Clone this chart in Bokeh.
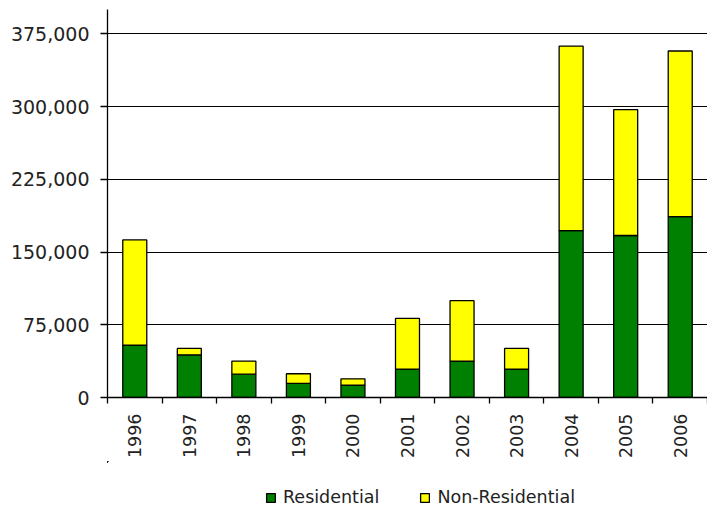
import math
from bokeh.plotting import figure
from bokeh.layouts import column
from bokeh.models import (ColumnDataSource, FixedTicker, Range1d, Legend, LegendItem,
                          NumeralTickFormatter)
from bokeh.embed import file_html
from bokeh.resources import INLINE

# Building permit values by year
years = ["1996", "1997", "1998", "1999", "2000", "2001", "2002", "2003", "2004", "2005", "2006"]
residential = [54000, 44000, 24000, 14500, 12800, 29300, 37600, 29300, 172000, 167000, 186500]
non_residential = [108500, 6600, 13600, 10000, 6500, 52200, 62200, 21300, 190300, 129700, 170700]
y_ticks = [0, 75000, 150000, 225000, 300000, 375000]

FONT = "DejaVu Sans"
GREEN = "#008000"
YELLOW = "#FFFF00"
TEXT = "#222222"

xs = [i + 0.5 for i in range(len(years))]
tot_top = [r + n for r, n in zip(residential, non_residential)]

src = ColumnDataSource(dict(x=xs, res_top=residential, tot=tot_top,
                            zero=[0] * len(years)))

p = figure(frame_width=600, frame_height=388, output_backend="svg", toolbar_location=None,
           x_range=Range1d(0, len(years)), y_range=Range1d(0, 400000),
           min_border_left=107, min_border_right=0, min_border_top=9,
           min_border_bottom=0)
p.outline_line_color = None
p.background_fill_color = "white"
p.border_fill_color = "white"

bw = 0.44
p.vbar(x="x", bottom="zero", top="res_top", width=bw, source=src,
       fill_color=GREEN, line_color="black", line_width=1.3)
p.vbar(x="x", bottom="res_top", top="tot", width=bw, source=src,
       fill_color=YELLOW, line_color="black", line_width=1.3)

# y axis
p.yaxis.ticker = FixedTicker(ticks=y_ticks)
p.yaxis.formatter = NumeralTickFormatter(format="0,0")
p.yaxis.major_tick_out = 7
p.yaxis.major_tick_in = 0
p.yaxis.minor_tick_out = 0
p.yaxis.minor_tick_in = 0
p.yaxis.axis_line_color = "black"
p.yaxis.axis_line_width = 1.3
p.yaxis.major_tick_line_width = 1.3
p.yaxis.major_label_standoff = 11
p.yaxis.major_label_text_font = FONT
p.yaxis.major_label_text_font_size = "19px"
p.yaxis.major_label_text_color = TEXT

# x axis: labels at category centres, ticks at category boundaries
p.xaxis.ticker = FixedTicker(ticks=xs, minor_ticks=list(range(len(years) + 1)))
p.xaxis.major_label_overrides = {x: y for x, y in zip(xs, years)}
p.xaxis.major_tick_out = 0
p.xaxis.major_tick_in = 0
p.xaxis.minor_tick_out = 6
p.xaxis.minor_tick_in = 0
p.xaxis.minor_tick_line_width = 1.3
p.xaxis.axis_line_width = 1.3
p.xaxis.major_label_orientation = math.pi / 2
p.xaxis.major_label_standoff = 10
p.xaxis.major_label_text_font = FONT
p.xaxis.major_label_text_font_size = "17.5px"
p.xaxis.major_label_text_color = TEXT

p.xgrid.grid_line_color = None
p.ygrid.ticker = FixedTicker(ticks=y_ticks[1:])
p.ygrid.grid_line_color = "black"
p.ygrid.grid_line_width = 1.1

# legend strip under the chart; its swatches come from the same series styles,
# with ranges that keep the strip's own bars out of view
leg = figure(frame_width=707, frame_height=47, output_backend="svg", toolbar_location=None,
             x_range=Range1d(100, 101), y_range=Range1d(-2000000, -1000000),
             x_axis_location=None, y_axis_location=None, min_border=0)
leg.outline_line_color = None
leg.grid.grid_line_color = None
leg.border_fill_color = "white"
lr1 = leg.vbar(x="x", bottom="zero", top="res_top", width=bw, source=src,
               fill_color=GREEN, line_color="black", line_width=1.3)
lr2 = leg.vbar(x="x", bottom="res_top", top="tot", width=bw, source=src,
               fill_color=YELLOW, line_color="black", line_width=1.3)

legend = Legend(items=[LegendItem(label="Residential", renderers=[lr1]),
                       LegendItem(label="Non-Residential", renderers=[lr2])],
                orientation="horizontal", location=(265, 1),
                label_text_font=FONT, label_text_font_size="17.5px",
                label_text_color=TEXT,
                glyph_width=11, glyph_height=11, spacing=40,
                label_standoff=7, padding=0, margin=0,
                border_line_color=None, background_fill_alpha=0)
leg.add_layout(legend)

page = column(p, leg, spacing=0)
open("out.html", "w").write(file_html(page, INLINE))
